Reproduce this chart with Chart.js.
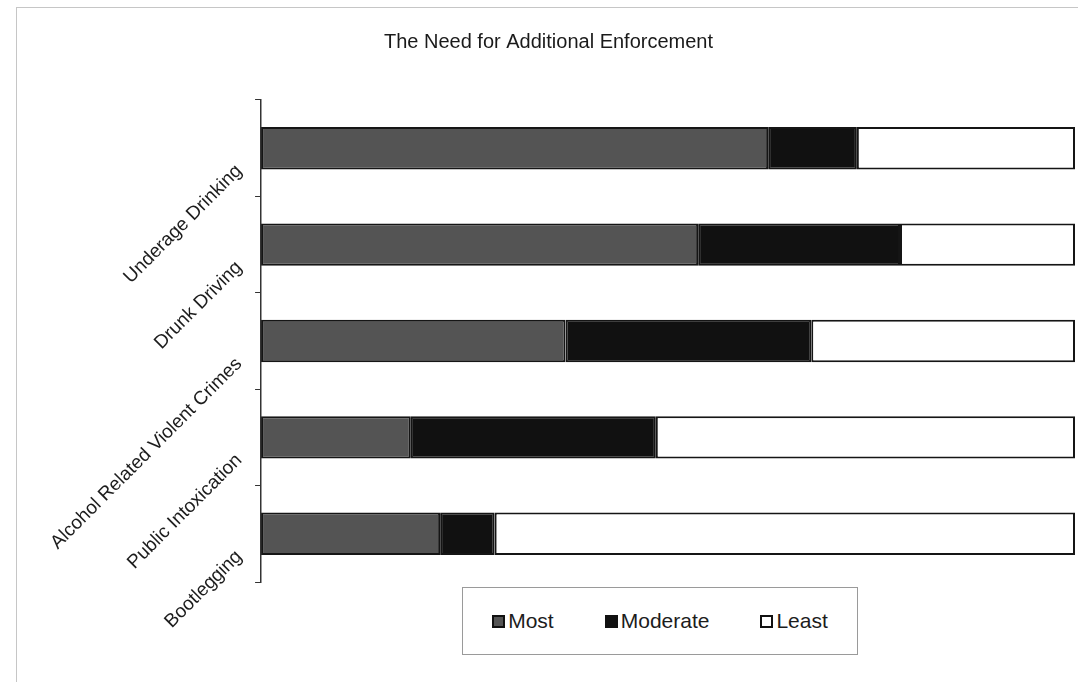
<!DOCTYPE html>
<html>
<head>
<meta charset="utf-8">
<script src="https://cdn.jsdelivr.net/npm/chart.js@4.4.1/dist/chart.umd.min.js"></script>
<style>
  body { margin: 0; background: #fff; font-family: "Liberation Sans", Arial, sans-serif; }
  #wrap { position: relative; width: 1078px; height: 682px; }
  #frame { position: absolute; left: 16px; top: 7px; right: 0; bottom: 0;
           border-top: 1px solid #c6c6c6; border-left: 1px solid #c6c6c6; }
  #legend { position: absolute; left: 462px; top: 587px; width: 396px; height: 68px;
            box-sizing: border-box; border: 1px solid #9a9a9a; background: #fff;
            display: flex; align-items: center; justify-content: center; gap: 51px;
            font-size: 21px; color: #1c1c1c; }
  .item { display: flex; align-items: center; }
  .swatch { width: 9px; height: 9px; border: 2px solid #111; margin-right: 3px; }
</style>
</head>
<body>
<div id="wrap">
  <div id="frame"></div>
  <canvas id="enfChart" width="1078" height="682"></canvas>
  <div id="legend"></div>
</div>
<script>
// categories, top to bottom
const categories = ['Underage Drinking', 'Drunk Driving', 'Alcohol Related Violent Crimes', 'Public Intoxication', 'Bootlegging'];
// share of responses, percent
const most     = [62.3, 53.7, 37.4, 18.4, 22.0];
const moderate = [10.9, 24.8, 30.2, 30.1, 6.7];
const least    = [26.8, 21.5, 32.4, 51.5, 71.3];
const seriesNames = ['Most', 'Moderate', 'Least'];
const seriesColors = ['#545454', '#111111', '#ffffff'];

const seriesData = [most, moderate, least];

const ctx = document.getElementById('enfChart').getContext('2d');
new Chart(ctx, {
    type: 'bar',
    data: {
        labels: categories,
        datasets: seriesNames.map((name, i) => ({
            label: name,
            data: seriesData[i],
            backgroundColor: seriesColors[i],
            borderColor: '#151515',
            borderWidth: 2,
            borderSkipped: false,
            barPercentage: 0.44,
            categoryPercentage: 1
        }))
    },
    options: {
        indexAxis: 'y',
        responsive: false,
        animation: false,
        layout: { padding: { left: 22, right: 3, top: 30, bottom: 100 } },
        plugins: {
            legend: { display: false },
            tooltip: { enabled: false },
            title: {
                display: true,
                text: 'The Need for Additional Enforcement',
                color: '#1a1a1a',
                font: { family: '"Liberation Sans", Arial, sans-serif', size: 20, weight: 'normal' },
                padding: { top: 0, bottom: 46 }
            }
        },
        scales: {
            x: {
                stacked: true,
                min: 0,
                max: 100,
                display: false
            },
            y: {
                stacked: true,
                grid: { drawOnChartArea: false, drawTicks: true, tickLength: 6, color: '#333' },
                border: { display: true, color: '#333', width: 1.5 },
                ticks: {
                    color: '#1c1c1c',
                    minRotation: 45,
                    maxRotation: 45,
                    padding: 16,
                    labelOffset: 20,
                    font: { family: '"Liberation Sans", Arial, sans-serif', size: 19 }
                }
            }
        }
    }
});

// legend box below the plot
const legend = document.getElementById('legend');
seriesNames.forEach((name, i) => {
    const item = document.createElement('div');
    item.className = 'item';
    const sw = document.createElement('span');
    sw.className = 'swatch';
    sw.style.background = seriesColors[i];
    item.appendChild(sw);
    item.appendChild(document.createTextNode(name));
    legend.appendChild(item);
});
</script>
</body>
</html>
